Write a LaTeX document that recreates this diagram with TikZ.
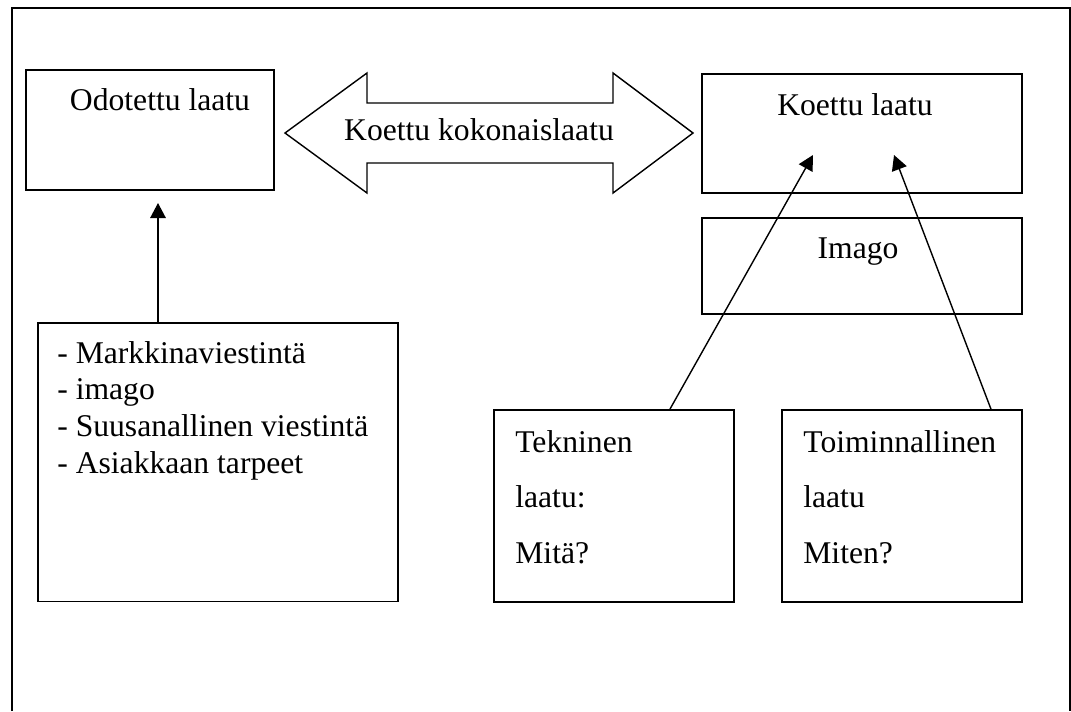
\documentclass[tikz,border=0pt]{standalone}
\usepackage{fontspec}
\setmainfont{Liberation Serif}
\usetikzlibrary{arrows.meta}

\begin{document}
\begin{tikzpicture}[x=0.02cm,y=-0.02cm,
  box/.style={draw,line width=1.1pt,inner sep=0pt},
  txt/.style={anchor=base,inner sep=0pt,font=\fontsize{18}{21}\selectfont},
  arr/.style={line width=0.8pt,-{Triangle[length=0.3cm,width=0.31cm]}}]
\useasboundingbox (0,0) rectangle (1071,711);
\draw[line width=0.9pt] (12,711) -- (12,8) -- (1070,8) -- (1070,711);

% boxes
\node[box,minimum width=4.96cm,minimum height=2.4cm] (OL) at (150,130) {};
\node[box,minimum width=6.4cm,minimum height=2.38cm] (KL) at (862,133.5) {};
\node[box,minimum width=6.4cm,minimum height=1.92cm] (IM) at (862,266) {};
\node[box,minimum width=7.2cm,minimum height=5.58cm] (LI) at (218,462) {};
\node[box,minimum width=4.8cm,minimum height=3.84cm] (TE) at (614,506) {};
\node[box,minimum width=4.8cm,minimum height=3.84cm] (TO) at (902,506) {};

% double arrow
\draw[line width=0.8pt] (285,133) -- (367,73) -- (367,103) -- (613,103) -- (613,73)
  -- (693,133) -- (613,193) -- (613,163) -- (367,163) -- (367,193) -- cycle;
\node[txt] (KK) at (479,140) {Koettu kokonaislaatu};

% texts
\node[txt] (OLt) at (160,110) {Odotettu laatu};
\node[txt] (KLt) at (855,115) {Koettu laatu};
\node[txt] (IMt) at (858,258) {Imago};
\foreach \t [count=\i] in {- Markkinaviestintä, - imago, - Suusanallinen viestintä, - Asiakkaan tarpeet}
  \node[txt,anchor=base west] (LI\i) at (57,{363+36.7*(\i-1)}) {\t};
\foreach \t [count=\i] in {Tekninen, laatu:, Mitä?}
  \node[txt,anchor=base west] (TE\i) at (515,{452+55.5*(\i-1)}) {\t};
\foreach \t [count=\i] in {Toiminnallinen, laatu, Miten?}
  \node[txt,anchor=base west] (TO\i) at (803,{452+55.5*(\i-1)}) {\t};

% arrows
\coordinate (OLtip) at (158,203);
\coordinate (KLtipA) at (813,155);
\coordinate (KLtipB) at (894,155);
\draw[arr] (LI.north -| OLtip) -- (OLtip);
\draw[arr] ([xshift=1.12cm]TE.north) -- (KLtipA);
\draw[arr] ([xshift=-0.64cm]TO.north east) -- (KLtipB);
\end{tikzpicture}
\end{document}
